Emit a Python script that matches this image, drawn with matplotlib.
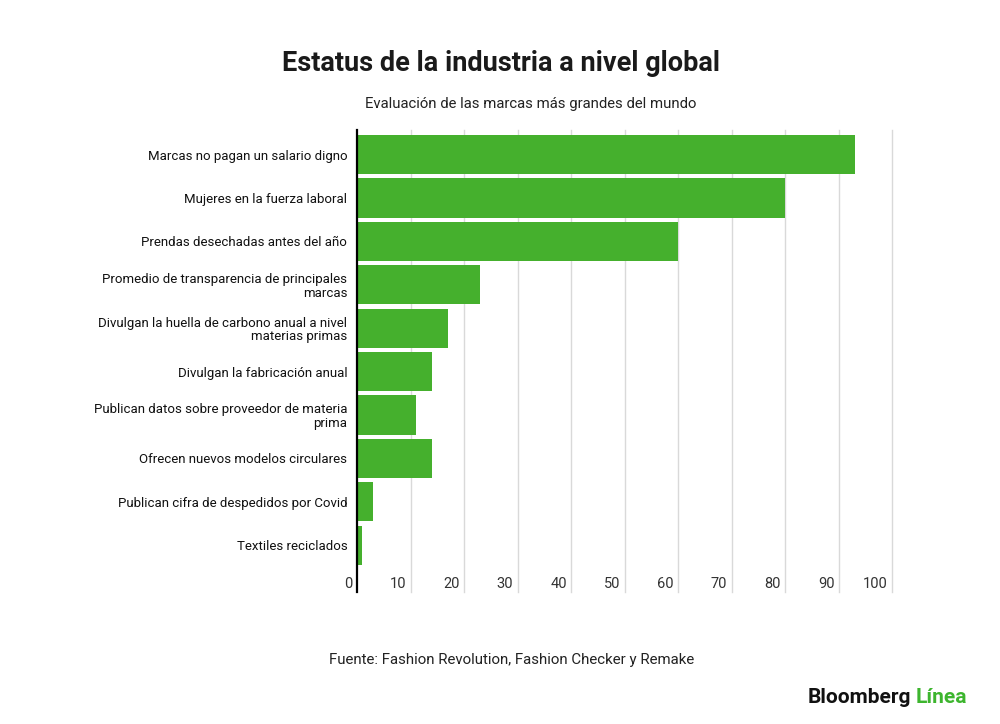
import matplotlib.pyplot as plt

# Datos
categorias = [
    "Marcas no pagan un salario digno",
    "Mujeres en la fuerza laboral",
    "Prendas desechadas antes del año",
    "Promedio de transparencia de principales\nmarcas",
    "Divulgan la huella de carbono anual a nivel\nmaterias primas",
    "Divulgan la fabricación anual",
    "Publican datos sobre proveedor de materia\nprima",
    "Ofrecen nuevos modelos circulares",
    "Publican cifra de despedidos por Covid",
    "Textiles reciclados",
]
valores = [93, 80, 60, 23, 17, 14, 11, 14, 3, 1]
ticks_x = [0, 10, 20, 30, 40, 50, 60, 70, 80, 90, 100]

verde = '#45b02d'
plt.rcParams['font.family'] = ['Roboto', 'DejaVu Sans']

fig = plt.figure(figsize=(10, 7.24), dpi=100)
ax = fig.add_axes([0.357, 0.1823, 0.535, 0.638])

pos = list(range(len(categorias)))
ax.barh(pos, valores, height=0.9, color=verde, zorder=3)
ax.set_ylim(10.08, -0.565)
ax.set_xlim(0, 100)

# Grilla vertical
for t in ticks_x[1:]:
    ax.axvline(t, color='#d9d9d9', linewidth=1, zorder=1, clip_on=False)

for s in ['top', 'right', 'bottom']:
    ax.spines[s].set_visible(False)
ax.spines['left'].set_color('black')
ax.spines['left'].set_linewidth(1.6)
ax.spines['left'].set_zorder(4)

ax.set_xticks([])
ax.set_yticks(pos)
ax.set_yticklabels(categorias, fontsize=9.5, color='#111111', linespacing=1.05)
ax.tick_params(axis='y', length=0, pad=7)

# Etiquetas del eje x a la izquierda de cada línea
for t in ticks_x:
    ax.annotate(str(t), xy=(t, 0), xycoords=('data', 'axes fraction'),
                xytext=(-3, 6), textcoords='offset points',
                ha='right', va='center', fontsize=10.5, color='#333333')

fig.text(0.501, 0.912, "Estatus de la industria a nivel global", ha='center', va='center',
         fontsize=19.5, fontweight='bold', color='#1a1a1a')
fig.text(0.531, 0.857, "Evaluación de las marcas más grandes del mundo", ha='center', va='center',
         fontsize=10.7, color='#222222')
fig.text(0.512, 0.088, "Fuente: Fashion Revolution, Fashion Checker y Remake", ha='center', va='center',
         fontsize=10.8, color='#222222')

fig.text(0.911, 0.037, "Bloomberg", ha='right', va='center', fontsize=15,
         fontweight='bold', color='#111111')
fig.text(0.916, 0.037, "Línea", ha='left', va='center', fontsize=15,
         fontweight='bold', color='#3db52e')

fig.savefig('out.png', dpi=100, facecolor='white')
